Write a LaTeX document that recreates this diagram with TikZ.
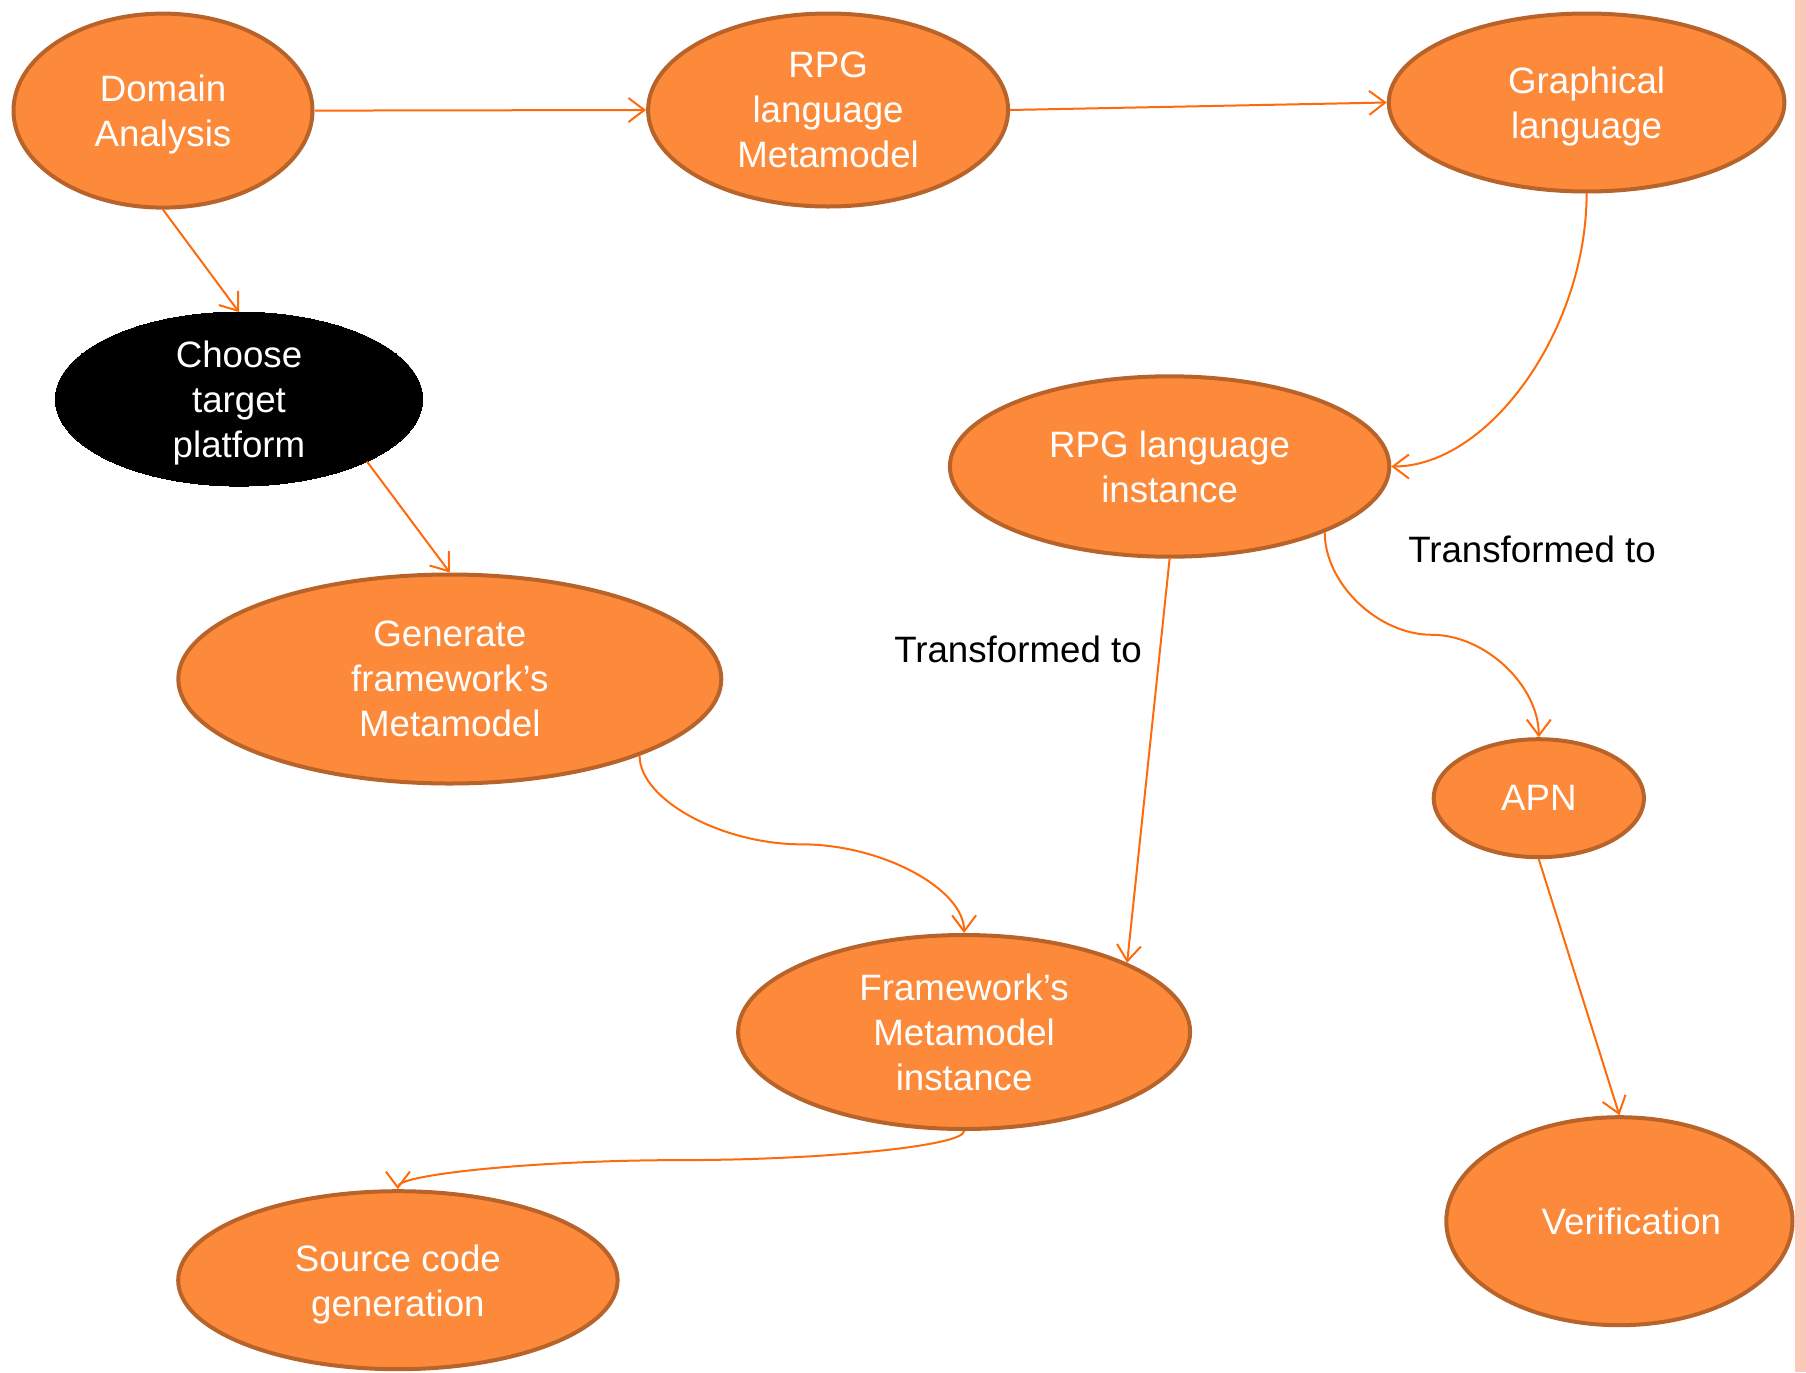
\documentclass[tikz,border=0pt]{standalone}
\usepackage{fontspec}
\setmainfont{Liberation Sans}
\usetikzlibrary{arrows.meta,shapes.geometric,calc}
\definecolor{nodefill}{HTML}{FD8A3A}
\definecolor{nodeedge}{HTML}{B8632A}
\definecolor{link}{HTML}{FF6A0A}
\definecolor{edgeband}{HTML}{FBC9B7}
\begin{document}
\begin{tikzpicture}[x=0.5pt,y=-0.5pt,
  txt/.style={font=\fontsize{18.35pt}{22.5pt}\selectfont},
  stage/.style={ellipse, fill=nodefill, draw=nodeedge, line width=2pt,
    inner sep=-8pt, text=white, align=center, text depth=0pt, txt},
  darkstage/.style={stage, fill=black, draw=black, line width=0pt},
  flow/.style={draw=link, line width=1pt,
    -{Straight Barb[length=8pt,width=12pt]}},
  note/.style={txt, text=black, inner sep=0pt}
]
\useasboundingbox (0,0) rectangle (1806,1372);
\fill[edgeband] (1795,0) rectangle (1806,1372);

% process stages
\node[stage, minimum width=149.5pt, minimum height=97pt]  (da)  at (163,110.6)   {Domain\\Analysis};
\node[stage, minimum width=180pt,   minimum height=96.5pt] (rm) at (828.1,110)   {RPG\\language\\Metamodel};
\node[stage, minimum width=197.8pt, minimum height=89pt]  (gl)  at (1586.6,102.5) {Graphical\\language};
\node[darkstage, minimum width=183.7pt, minimum height=87pt] (ch) at (239,399.1) {Choose\\target\\platform};
\node[stage, minimum width=219.7pt, minimum height=90.2pt] (ri) at (1169.6,466.5) {RPG language\\instance};
\node[stage, minimum width=271.5pt, minimum height=104.5pt] (gen) at (449.8,679) {Generate\\framework’s\\Metamodel};
\node[stage, minimum width=105.1pt, minimum height=59pt]  (apn) at (1538.8,798.2) {APN};
\node[stage, minimum width=226pt,   minimum height=97pt]  (fi)  at (964.1,1032)  {Framework’s\\Metamodel\\instance};
\node[stage, minimum width=173.1pt, minimum height=104pt] (ver) at (1619.4,1221.2) {\hspace*{12pt}Verification};
\node[stage, minimum width=219.7pt, minimum height=89pt]  (sc)  at (397.9,1280.2) {Source code\\generation};

% edge labels
\node[note] (t1) at (1532,549.4) {Transformed to};
\node[note] (t2) at (1018,649.6) {Transformed to};

% straight connectors
\draw[flow] (da.east) -- (rm.west);
\draw[flow] (rm.east) -- (gl.west);
\draw[flow] (da.south) -- (ch.north);
\draw[flow] (ch.-26) -- (gen.north);
\draw[flow] (ri.south) -- (fi.23.5);
\draw[flow] (apn.south) -- (ver.north);

% curved connectors
\draw[flow] (gl.south) .. controls +(0,136) and +(98,0) .. (ri.east);

\coordinate (m1) at ($(gen.-22)!0.5!(fi.north)$);
\draw[flow] (gen.-22) .. controls +(0,44) and +(-80,0) .. (m1)
  .. controls +(80,0) and +(0,-44) .. (fi.north);

\coordinate (m2) at ($(ri.-23)!0.5!(apn.north)$);
\draw[flow] (ri.-23) .. controls +(0,51) and +(-54,0) .. (m2)
  .. controls +(54,0) and +(0,-51) .. (apn.north);

\coordinate (m3) at ($(fi.south)!0.5!(sc.north)$);
\draw[flow] (fi.south) .. controls +(0,15) and +(141,0) .. (m3)
  .. controls +(-141,0) and +(0,-15) .. (sc.north);
\end{tikzpicture}
\end{document}
